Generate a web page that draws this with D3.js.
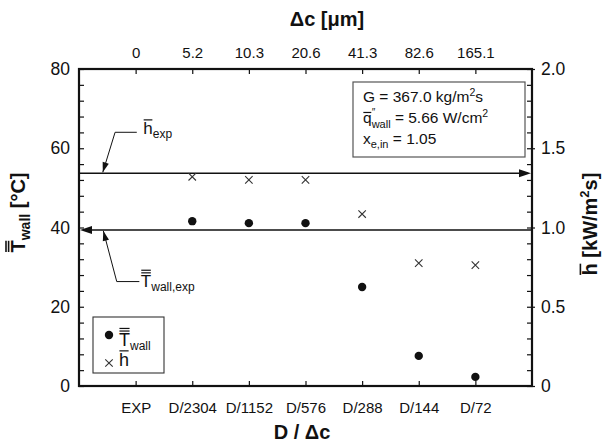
<!DOCTYPE html>
<html>
<head>
<meta charset="utf-8">
<script src="https://cdn.jsdelivr.net/npm/d3@7"></script>
<style>
  body { margin: 0; background: #fff; }
  svg { display: block; }
  text { font-family: "Liberation Sans", Arial, sans-serif; fill: #111; white-space: pre; }
</style>
</head>
<body>
<svg id="chart" width="603" height="442"></svg>
<script>
// Grid resolution categories (bottom axis) and cell sizes (top axis)
const gridLabels = ["EXP", "D/2304", "D/1152", "D/576", "D/288", "D/144", "D/72"];
const spacingLabels = ["0", "5.2", "10.3", "20.6", "41.3", "82.6", "165.1"];

// Simulated mean wall temperature [°C] and heat transfer coefficient [kW/m²s]
const wallTemp  = [null, 41.6, 41.1, 41.1, 25.0, 7.6, 2.3];
const heatCoeff = [null, 1.32, 1.30, 1.30, 1.085, 0.775, 0.763];

// Experimental reference values
const expWallTemp = 39.4;
const expHeatCoeff = 1.342;

// Axis ticks
const tempTicks = [0, 20, 40, 60, 80];
const tempMinorTicks = d3.range(0, 81, 4);
const coeffTicks = [0, 0.5, 1.0, 1.5, 2.0];
const coeffMinorTicks = d3.range(0, 21).map(d => d / 10);
const coeffLabels = ["0", "0.5", "1.0", "1.5", "2.0"];

const svg = d3.select("#chart");
const box = { left: 79, right: 532, top: 69, bottom: 386 };

const x  = d3.scaleLinear().domain([-1, 7]).range([box.left, box.right]);
const yT = d3.scaleLinear().domain([0, 80]).range([box.bottom, box.top]);
const yH = d3.scaleLinear().domain([0, 2]).range([box.bottom, box.top]);
const idx = d3.range(gridLabels.length);

// Builds a run of text pieces (with optional overbars, sub/superscripts) into a group.
function rich(parent, pieces) {
  const g = parent.append("g");
  let cx = 0, stackW = null;
  pieces.forEach(p => {
    const dy = p.dy || 0;
    const t = g.append("text")
      .attr("x", cx).attr("y", dy)
      .style("font-size", p.fs + "px")
      .style("font-weight", p.bold ? "bold" : "normal")
      .text(p.t);
    const w = t.node().getComputedTextLength();
    if (p.bar) {
      const top = dy - p.fs * (p.barH || 0.73);
      for (let i = 0; i < p.bar; i++) {
        const yy = top - 2 - i * 2.6;
        g.append("line")
          .attr("x1", cx + w * 0.04).attr("x2", cx + w * 0.96)
          .attr("y1", yy).attr("y2", yy)
          .attr("stroke", "#111").attr("stroke-width", p.bold ? 1.6 : 1.2);
      }
    }
    if (p.stack) { stackW = w; }
    else {
      cx += stackW != null ? Math.max(w, stackW) : w;
      stackW = null;
    }
  });
  return { g, width: cx };
}

function place(obj, px, py, anchor, rot) {
  const off = anchor === "middle" ? -obj.width / 2 : anchor === "end" ? -obj.width : 0;
  obj.g.attr("transform", `translate(${px},${py})${rot ? ` rotate(${rot})` : ""} translate(${off},0)`);
}

// ---- axes ----
function styleAxis(g) {
  g.select(".domain").remove();
  g.selectAll(".tick line").attr("stroke", "#111").attr("stroke-width", 1.2);
  g.selectAll(".tick text").attr("fill", "#111").style("font-family", '"Liberation Sans", Arial, sans-serif');
}

svg.append("g").attr("transform", `translate(0,${box.top})`)
  .call(d3.axisTop(x).tickValues(idx).tickSizeInner(-5).tickSizeOuter(0).tickPadding(11)
    .tickFormat(i => spacingLabels[i]))
  .call(styleAxis)
  .call(g => g.selectAll(".tick text").style("font-size", "15px"));

svg.append("g").attr("transform", `translate(0,${box.bottom})`)
  .call(d3.axisBottom(x).tickValues(idx).tickSizeInner(-5).tickSizeOuter(0).tickPadding(16)
    .tickFormat(i => gridLabels[i]))
  .call(styleAxis)
  .call(g => g.selectAll(".tick text").style("font-size", "15px"));

svg.append("g").attr("transform", `translate(${box.left},0)`)
  .call(d3.axisLeft(yT).tickValues(tempMinorTicks).tickSizeInner(-5).tickSizeOuter(0).tickFormat(""))
  .call(styleAxis);
svg.append("g").attr("transform", `translate(${box.left},0)`)
  .call(d3.axisLeft(yT).tickValues(tempTicks).tickSizeInner(0).tickSizeOuter(0).tickPadding(9)
    .tickFormat(d3.format("d")))
  .call(styleAxis)
  .call(g => g.selectAll(".tick text").style("font-size", "17.5px"));

svg.append("g").attr("transform", `translate(${box.right},0)`)
  .call(d3.axisRight(yH).tickValues(coeffMinorTicks).tickSizeInner(-5).tickSizeOuter(0).tickFormat(""))
  .call(styleAxis);
svg.append("g").attr("transform", `translate(${box.right},0)`)
  .call(d3.axisRight(yH).tickValues(coeffTicks).tickSizeInner(3).tickSizeOuter(0).tickPadding(6)
    .tickFormat((d, i) => coeffLabels[i]))
  .call(styleAxis)
  .call(g => g.selectAll(".tick text").style("font-size", "17.5px"));

// plot frame
svg.append("rect")
  .attr("x", box.left).attr("y", box.top)
  .attr("width", box.right - box.left).attr("height", box.bottom - box.top)
  .attr("fill", "none").attr("stroke", "#111").attr("stroke-width", 2.2);

// ---- axis titles ----
place(rich(svg, [{ t: "Δc [μm]", fs: 20, bold: true }]), 327, 26, "middle");
place(rich(svg, [{ t: "D / Δc", fs: 20, bold: true }]), 302, 439, "middle");
place(rich(svg, [
  { t: "T", fs: 20, bold: true, bar: 2, barH: 0.72 },
  { t: "wall", fs: 14, bold: true, dy: 5 },
  { t: " [°C]", fs: 20, bold: true }
]), 25, (box.top + box.bottom) / 2 - 15, "middle", -90);
place(rich(svg, [
  { t: "h", fs: 20, bold: true, bar: 1, barH: 0.73 },
  { t: " [kW/m", fs: 20, bold: true },
  { t: "2", fs: 13, bold: true, dy: -8 },
  { t: "s]", fs: 20, bold: true }
]), 597, 224, "middle", -90);

// ---- experimental reference lines with arrows ----
function arrowHead(tip, from, len, hw) {
  const dx = tip[0] - from[0], dy = tip[1] - from[1];
  const L = Math.hypot(dx, dy), ux = dx / L, uy = dy / L;
  const bx = tip[0] - ux * len, by = tip[1] - uy * len;
  return `M${tip[0]},${tip[1]}L${bx - uy * hw},${by + ux * hw}L${bx + uy * hw},${by - ux * hw}Z`;
}

const hy = yH(expHeatCoeff), ty = yT(expWallTemp);
svg.append("line").attr("x1", x(-1)).attr("x2", x(7) - 4).attr("y1", hy).attr("y2", hy)
  .attr("stroke", "#111").attr("stroke-width", 1.5);
svg.append("path").attr("d", arrowHead([x(7) - 1, hy], [x(6), hy], 12, 4)).attr("fill", "#111");
svg.append("line").attr("x1", x(-1) + 4).attr("x2", x(7)).attr("y1", ty).attr("y2", ty)
  .attr("stroke", "#111").attr("stroke-width", 1.5);
svg.append("path").attr("d", arrowHead([x(-1) + 1, ty], [x(0), ty], 12, 4)).attr("fill", "#111");

// leader for h_exp
{
  const tip = [x(-0.58), hy - 1];
  const elbow = [tip[0] + 12.3, tip[1] - 40];
  const end = [elbow[0] + 21.7, elbow[1]];
  svg.append("path").attr("d", `M${end[0]},${end[1]}L${elbow[0]},${elbow[1]}L${tip[0]},${tip[1]}`)
    .attr("fill", "none").attr("stroke", "#111").attr("stroke-width", 1);
  svg.append("path").attr("d", arrowHead(tip, elbow, 10, 3.2)).attr("fill", "#111");
  place(rich(svg, [
    { t: "h", fs: 17, bar: 1, barH: 0.73 },
    { t: "exp", fs: 12, dy: 4 }
  ]), end[0] + 6.5, end[1] + 2, "start");
}

// leader for T_wall,exp
{
  const tip = [x(-0.57), ty + 1];
  const elbow = [tip[0] + 13.4, tip[1] + 50.7];
  const end = [elbow[0] + 22.6, elbow[1]];
  svg.append("path").attr("d", `M${end[0]},${end[1]}L${elbow[0]},${elbow[1]}L${tip[0]},${tip[1]}`)
    .attr("fill", "none").attr("stroke", "#111").attr("stroke-width", 1);
  svg.append("path").attr("d", arrowHead(tip, elbow, 10, 3.2)).attr("fill", "#111");
  place(rich(svg, [
    { t: "T", fs: 17, bar: 2, barH: 0.72 },
    { t: "wall,exp", fs: 12, dy: 4 }
  ]), end[0] + 1.5, end[1] + 5.5, "start");
}

// ---- data marks ----
const tempPts = idx.filter(i => wallTemp[i] != null);
const coeffPts = idx.filter(i => heatCoeff[i] != null);

svg.append("g").selectAll("circle").data(tempPts).join("circle")
  .attr("cx", i => x(i)).attr("cy", i => yT(wallTemp[i])).attr("r", 4.2).attr("fill", "#111");

const cross = d3.symbol().type(d3.symbolX).size(38);
svg.append("g").selectAll("path").data(coeffPts).join("path")
  .attr("transform", i => `translate(${x(i)},${yH(heatCoeff[i])})`)
  .attr("d", cross()).attr("fill", "none").attr("stroke", "#333").attr("stroke-width", 1.1);

// ---- legend ----
{
  const lg = svg.append("g");
  lg.append("rect").attr("x", 93).attr("y", 317).attr("width", 71).attr("height", 56)
    .attr("fill", "#fff").attr("stroke", "#333").attr("stroke-width", 1.1);
  lg.append("circle").attr("cx", 109).attr("cy", 335).attr("r", 4.2).attr("fill", "#111");
  lg.append("path").attr("transform", "translate(109,363)").attr("d", cross())
    .attr("fill", "none").attr("stroke", "#333").attr("stroke-width", 1.1);
  place(rich(lg, [
    { t: "T", fs: 18, bar: 2, barH: 0.72 },
    { t: "wall", fs: 12, dy: 4 }
  ]), 119, 346, "start");
  place(rich(lg, [{ t: "h", fs: 18, bar: 1, barH: 0.73 }]), 119, 366, "start");
}

// ---- operating conditions box ----
{
  const cg = svg.append("g");
  cg.append("rect").attr("x", 353).attr("y", 82).attr("width", 172).attr("height", 75)
    .attr("fill", "#fff").attr("stroke", "#555").attr("stroke-width", 1.2);
  place(rich(cg, [
    { t: "G = 367.0 kg/m", fs: 15.5 },
    { t: "2", fs: 10.5, dy: -6 },
    { t: "s", fs: 15.5 }
  ]), 363, 102, "start");
  place(rich(cg, [
    { t: "q", fs: 15.5, bar: 1, barH: 0.55 },
    { t: "″", fs: 10, dy: -7, stack: true },
    { t: "wall", fs: 11, dy: 4.5 },
    { t: " = 5.66 W/cm", fs: 15.5 },
    { t: "2", fs: 10.5, dy: -6 }
  ]), 363, 123, "start");
  place(rich(cg, [
    { t: "x", fs: 15.5 },
    { t: "e,in", fs: 11, dy: 4 },
    { t: " = 1.05", fs: 15.5 }
  ]), 363, 144, "start");
}
</script>
</body>
</html>
